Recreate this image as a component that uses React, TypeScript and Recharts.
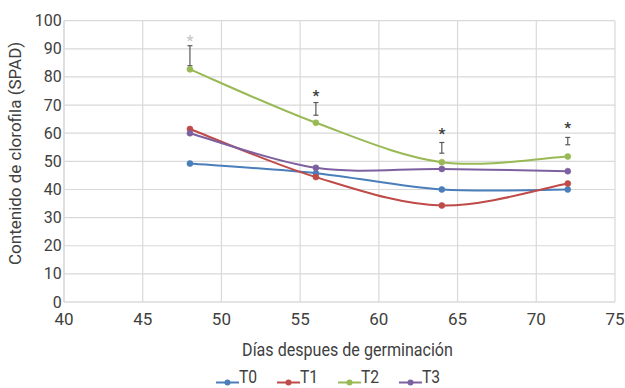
import React from 'react';
import { LineChart, Line, XAxis, YAxis, CartesianGrid, Legend, ErrorBar } from 'recharts';

// Sampling days and SPAD chlorophyll readings per treatment
const days = [48, 56, 64, 72];
const t0 = [49.2, 45.8, 40.0, 40.0];
const t1 = [61.5, 44.4, 34.3, 42.1];
const t2 = [82.7, 63.7, 49.7, 51.7];
const t3 = [60.0, 47.7, 47.3, 46.5];

// Significance markers: error bar range and asterisk level per day
const barLow = [84.0, 66.4, 52.9, 55.9];
const barHigh = [91.1, 70.9, 56.7, 58.5];
const starLevel = [93.7, 74.4, 60.6, 62.7];

const xTicks = [40, 45, 50, 55, 60, 65, 70, 75];
const yTicks = [0, 10, 20, 30, 40, 50, 60, 70, 80, 90, 100];

const seriesNames = ['T0', 'T1', 'T2', 'T3'];
const seriesValues = [t0, t1, t2, t3];
const seriesColors = ['#4A7EBB', '#BE4B48', '#98B954', '#7D60A0'];
const starColors = ['#c8c8c8', '#3a3a3a', '#3a3a3a', '#3a3a3a'];

const FONT = 'Roboto, "Noto Sans", sans-serif';
const TEXT = '#404040';
const GRID = '#d9d9d9';

const rows = days.map((day, i) => {
  const row: Record<string, number> = { day };
  seriesNames.forEach((name, s) => {
    row[name] = seriesValues[s][i];
  });
  row.barMid = (barLow[i] + barHigh[i]) / 2;
  row.barHalf = (barHigh[i] - barLow[i]) / 2;
  row.star = starLevel[i];
  return row;
});

// Smooth curve through the points (Catmull-Rom as cubic Beziers)
const smoothCurve = (context: any) => {
  let xs: number[] = [];
  let ys: number[] = [];
  return {
    areaStart() {},
    areaEnd() {},
    lineStart() {
      xs = [];
      ys = [];
    },
    point(x: number, y: number) {
      xs.push(+x);
      ys.push(+y);
    },
    lineEnd() {
      const n = xs.length;
      if (!n) return;
      context.moveTo(xs[0], ys[0]);
      for (let i = 0; i < n - 1; i++) {
        const i0 = Math.max(i - 1, 0);
        const i3 = Math.min(i + 2, n - 1);
        const c1x = xs[i] + (xs[i + 1] - xs[i0]) / 6;
        const c1y = ys[i] + (ys[i + 1] - ys[i0]) / 6;
        const c2x = xs[i + 1] - (xs[i3] - xs[i]) / 6;
        const c2y = ys[i + 1] - (ys[i3] - ys[i]) / 6;
        context.bezierCurveTo(c1x, c1y, c2x, c2y, xs[i + 1], ys[i + 1]);
      }
    },
  };
};

const XTick = (props: any) => {
  const { x, y, payload } = props;
  return (
    <text x={x} y={y + 23.4} textAnchor="middle" fontSize={17} fontFamily={FONT} fill={TEXT}>
      {payload.value}
    </text>
  );
};

const YTick = (props: any) => {
  const { x, y, payload } = props;
  return (
    <text x={x - 2.3} y={y + 5.5} textAnchor="end" fontSize={16} fontFamily={FONT} fill={TEXT}>
      {payload.value}
    </text>
  );
};

const XTitle = (props: any) => {
  const { viewBox } = props;
  const cx = viewBox.x + viewBox.width / 2 + 8;
  const by = viewBox.y + 53.5;
  return (
    <text
      transform={`translate(${cx},${by}) scale(0.87,1)`}
      textAnchor="middle"
      fontSize={18.5}
      fontFamily={FONT}
      fill={TEXT}
    >
      Días despues de germinación
    </text>
  );
};

const YTitle = (props: any) => {
  const { viewBox } = props;
  const bx = 20.5;
  const cy = viewBox.y + viewBox.height / 2 - 8;
  return (
    <text
      transform={`translate(${bx},${cy}) rotate(-90)`}
      textAnchor="middle"
      fontSize={17}
      fontFamily={FONT}
      fill={TEXT}
    >
      Contenido de clorofila (SPAD)
    </text>
  );
};

const renderStar = (props: any) => {
  const { cx, cy, index } = props;
  if (cx == null || cy == null) return <g key={`star-${index}`} />;
  return (
    <text
      key={`star-${index}`}
      x={cx}
      y={cy + 7.8}
      textAnchor="middle"
      fontSize={15}
      fontWeight="bold"
      fontFamily={FONT}
      fill={starColors[index]}
    >
      *
    </text>
  );
};

const renderLegend = () => (
  <div style={{ display: 'flex', paddingLeft: 216, height: 26, fontFamily: FONT, color: TEXT }}>
    {seriesNames.map((name, s) => (
      <div key={name} style={{ width: 61, height: 26, display: 'flex', alignItems: 'flex-start' }}>
        <svg width={23} height={26} style={{ display: 'block' }}>
          <line x1={0} x2={23} y1={20.5} y2={20.5} stroke={seriesColors[s]} strokeWidth={2} />
          <circle cx={11.5} cy={20.5} r={3} fill={seriesColors[s]} />
        </svg>
        <span
          style={{
            fontSize: 18,
            lineHeight: '16px',
            height: 16,
            marginTop: 7.3,
            display: 'inline-block',
            whiteSpace: 'nowrap',
            transform: 'scaleX(0.87)',
            transformOrigin: 'left center',
          }}
        >
          {name}
        </span>
      </div>
    ))}
  </div>
);

export default function App() {
  return (
    <div style={{ position: 'absolute', left: 0, top: 0, width: 625, height: 388, background: '#fff' }}>
      <LineChart width={625} height={388} data={rows} margin={{ top: 20.7, right: 10, left: 0, bottom: 0 }}>
        <CartesianGrid stroke={GRID} strokeWidth={1.2} />
        <XAxis
          dataKey="day"
          type="number"
          domain={[40, 75]}
          ticks={xTicks}
          interval={0}
          tickLine={false}
          tickSize={0}
          tickMargin={0}
          axisLine={{ stroke: GRID, strokeWidth: 1.2 }}
          tick={<XTick />}
          height={60}
          label={{ content: <XTitle /> }}
        />
        <YAxis
          type="number"
          domain={[0, 100]}
          ticks={yTicks}
          interval={0}
          tickLine={false}
          tickSize={0}
          tickMargin={0}
          axisLine={{ stroke: GRID, strokeWidth: 1.2 }}
          tick={<YTick />}
          width={64}
          label={{ content: <YTitle /> }}
        />
        <Legend verticalAlign="bottom" content={renderLegend} wrapperStyle={{ left: 0, bottom: 0, height: 26 }} />
        {seriesNames.map((name, s) => (
          <Line
            key={name}
            dataKey={name}
            name={name}
            type={smoothCurve as any}
            stroke={seriesColors[s]}
            strokeWidth={2}
            dot={{ r: 3, fill: seriesColors[s], stroke: seriesColors[s], strokeWidth: 0.6 }}
            activeDot={false}
            isAnimationActive={false}
          />
        ))}
        <Line
          dataKey="barMid"
          stroke="none"
          dot={false}
          activeDot={false}
          legendType="none"
          isAnimationActive={false}
        >
          <ErrorBar dataKey="barHalf" width={2.5} stroke="#595959" strokeWidth={1.2} isAnimationActive={false} />
        </Line>
        <Line
          dataKey="star"
          stroke="none"
          dot={renderStar}
          activeDot={false}
          legendType="none"
          isAnimationActive={false}
        />
      </LineChart>
    </div>
  );
}
